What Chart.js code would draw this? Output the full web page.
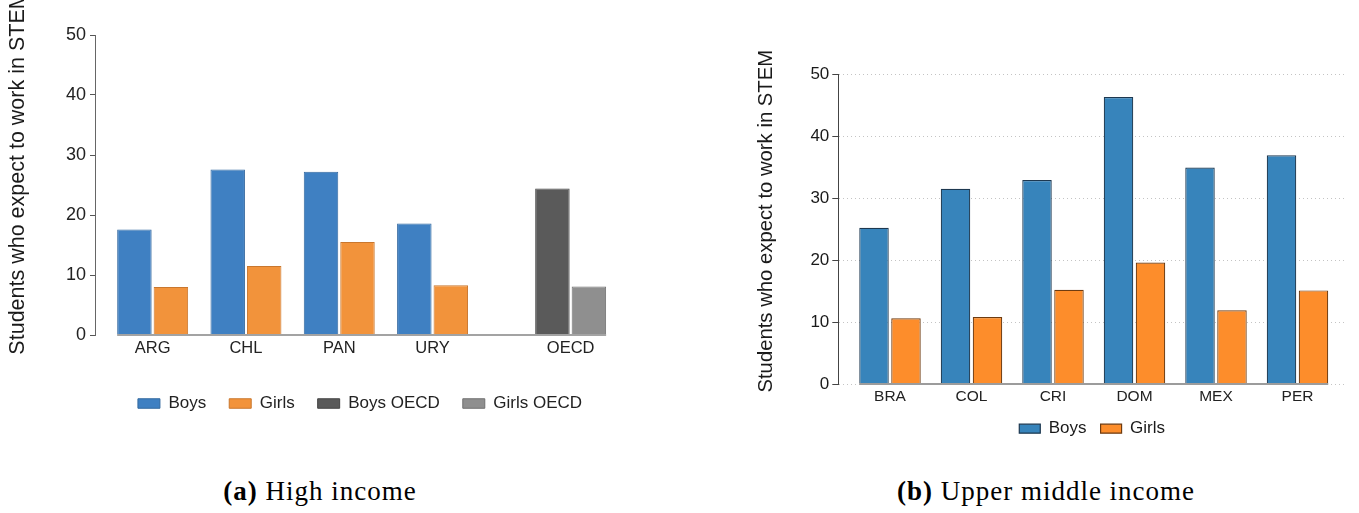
<!DOCTYPE html>
<html>
<head>
<meta charset="utf-8">
<title>Students who expect to work in STEM</title>
<script src="https://cdn.jsdelivr.net/npm/chart.js@4.4.1/dist/chart.umd.min.js"></script>
<style>
  html, body { margin: 0; padding: 0; background: #fff; }
  #page { position: relative; width: 1359px; height: 513px; overflow: hidden; }
  canvas { position: absolute; top: 0; }
  #highChart { left: 0; }
  #upperChart { left: 740px; }
  .caption {
    position: absolute; top: 478px; width: 400px; text-align: center;
    font-family: 'Liberation Serif', 'Times New Roman', serif;
    font-size: 27px; line-height: 27px; letter-spacing: 1px; color: #000; white-space: nowrap;
  }
</style>
</head>
<body>
<div id="page">
  <canvas id="highChart" width="720" height="440"></canvas>
  <canvas id="upperChart" width="619" height="460"></canvas>
  <div class="caption" style="left:120px"><b>(a)</b> High income</div>
  <div class="caption" style="left:846px"><b>(b)</b> Upper middle income</div>
</div>
<script>
// (a) high income countries, plus the OECD average as its own group
const highCountries = ['ARG', 'CHL', 'PAN', 'URY'];
const highBoys = [17.6, 27.6, 27.2, 18.6];
const highGirls = [8.0, 11.5, 15.5, 8.3];
const oecdLabels = ['OECD'];
const oecdBoys = [24.4];
const oecdGirls = [8.1];

// (b) upper middle income countries
const upperCountries = ['BRA', 'COL', 'CRI', 'DOM', 'MEX', 'PER'];
const upperBoys = [25.2, 31.5, 32.9, 46.3, 34.9, 36.9];
const upperGirls = [10.6, 10.8, 15.2, 19.6, 11.9, 15.1];

const yTicks = [0, 10, 20, 30, 40, 50];
const yTitle = 'Students who expect to work in STEM';

const FONT = "'Liberation Sans', Arial, Helvetica, sans-serif";
Chart.defaults.font.family = FONT;
Chart.defaults.color = '#222';

// Category axis like the Stata one: some room between the axis line and the
// first / last group, and optionally a wider gap before one group (OECD).
class PlotCategoryScale extends Chart.CategoryScale {
  buildTicks() {
    const ticks = super.buildTicks();
    this._valueRange += this.options.gapSize;
    return ticks;
  }
  configure() {
    super.configure();
    this._startPixel += this.options.insetStart;
    this._endPixel -= this.options.insetEnd;
    this._length = this._endPixel - this._startPixel;
  }
  getPixelForValue(value) {
    if (typeof value !== 'number') value = this.parse(value);
    if (value === null) return NaN;
    if (value >= this.options.gapBefore) value += this.options.gapSize;
    return this.getPixelForDecimal((value - this._startValue) / this._valueRange);
  }
}
PlotCategoryScale.id = 'plotCategory';
PlotCategoryScale.defaults = { insetStart: 0, insetEnd: 0, gapBefore: 1e9, gapSize: 0 };
Chart.register(PlotCategoryScale);

const fixedTicks = axis => { axis.ticks = yTicks.map(v => ({ value: v })); };

// solid base line running only under the bars
function baseLine(color, width) {
  return {
    id: 'baseLine',
    afterDatasetsDraw(chart) {
      const bars = chart.getSortedVisibleDatasetMetas()
        .flatMap(m => m.data.filter((b, i) => m._parsed[i].y !== null));
      const left = Math.min(...bars.map(b => b.x - b.width / 2));
      const right = Math.max(...bars.map(b => b.x + b.width / 2));
      const y = chart.scales.y.getPixelForValue(0);
      const ctx = chart.ctx;
      ctx.save();
      ctx.strokeStyle = color;
      ctx.lineWidth = width;
      ctx.beginPath();
      ctx.moveTo(left, y);
      ctx.lineTo(right, y);
      ctx.stroke();
      ctx.restore();
    }
  };
}

// y title sits a bit higher than the plot centre in the source, draw it by hand
function sideTitle(cx, cy, size) {
  return {
    id: 'sideTitle',
    afterDraw(chart) {
      const ctx = chart.ctx;
      ctx.save();
      ctx.translate(cx, cy);
      ctx.rotate(-Math.PI / 2);
      ctx.font = size + 'px ' + FONT;
      ctx.fillStyle = '#1a1a1a';
      ctx.textAlign = 'center';
      ctx.textBaseline = 'middle';
      ctx.fillText(yTitle, 0, 0);
      ctx.restore();
    }
  };
}

const xTicks = (size, pad) => ({ font: { size: size }, padding: pad, autoSkip: false, maxRotation: 0, color: '#222' });
const blanks = arr => arr.map(() => null);

// ---- panel (a)
new Chart(document.getElementById('highChart'), {
  type: 'bar',
  data: {
    labels: highCountries.concat(oecdLabels),
    datasets: [
      { label: 'Boys', data: highBoys.concat(blanks(oecdLabels)),
        backgroundColor: '#3f80c2', borderColor: '#33689f' },
      { label: 'Girls', data: highGirls.concat(blanks(oecdLabels)),
        backgroundColor: '#f2933b', borderColor: '#c9772e' },
      { label: 'Boys OECD', data: blanks(highCountries).concat(oecdBoys),
        backgroundColor: '#5a5a5a', borderColor: '#444444' },
      { label: 'Girls OECD', data: blanks(highCountries).concat(oecdGirls),
        backgroundColor: '#8f8f8f', borderColor: '#707070' }
    ]
  },
  options: {
    responsive: false,
    animation: false,
    datasets: { bar: { borderWidth: 1, skipNull: true, categoryPercentage: 0.782, barPercentage: 0.945 } },
    layout: { padding: { top: 35, left: 60, right: 60, bottom: 18 } },
    plugins: {
      legend: {
        position: 'bottom',
        labels: { boxWidth: 22, boxHeight: 9.5, padding: 23, font: { size: 17 }, color: '#222' }
      },
      tooltip: { enabled: false }
    },
    scales: {
      x: {
        type: 'plotCategory', offset: true,
        insetStart: 11, insetEnd: 42.7, gapBefore: highCountries.length, gapSize: 0.48,
        grid: { display: false, drawTicks: false }, border: { display: false },
        ticks: xTicks(16.5, 4),
        afterFit: a => { a.height = 37; }
      },
      y: {
        min: 0, max: 50,
        afterBuildTicks: fixedTicks,
        afterFit: a => { a.width = 35; },
        grid: { drawOnChartArea: false, tickLength: 5, tickColor: '#555', tickWidth: 1 },
        border: { color: '#666', width: 1 },
        ticks: { font: { size: 18 }, padding: 4, color: '#222' }
      }
    }
  },
  plugins: [baseLine('#a3a3a3', 2), sideTitle(18, 173, 21.5)]
});

// ---- panel (b)
new Chart(document.getElementById('upperChart'), {
  type: 'bar',
  data: {
    labels: upperCountries,
    datasets: [
      { label: 'Boys', data: upperBoys, backgroundColor: '#3784bb', borderColor: '#1d3850' },
      { label: 'Girls', data: upperGirls, backgroundColor: '#fd8d2b', borderColor: '#6e3b10' }
    ]
  },
  options: {
    responsive: false,
    animation: false,
    datasets: { bar: { borderWidth: 1.2, categoryPercentage: 0.785, barPercentage: 0.922 } },
    layout: { padding: { top: 74, left: 38.3, right: 13, bottom: 12.8 } },
    plugins: {
      legend: {
        position: 'bottom', fullSize: false,
        labels: { boxWidth: 21, boxHeight: 9, padding: 14, font: { size: 17 }, color: '#1a1a1a' }
      },
      tooltip: { enabled: false }
    },
    scales: {
      x: {
        type: 'plotCategory', offset: true, insetStart: 10.95, insetEnd: 7.75,
        grid: { display: false, drawTicks: false }, border: { display: false },
        ticks: xTicks(15.5, 3),
        afterFit: a => { a.height = 22.2; }
      },
      y: {
        min: 0, max: 50,
        afterBuildTicks: fixedTicks,
        afterFit: a => { a.width = 60; },
        grid: { color: '#c4c4c4', lineWidth: 1, tickLength: 6, tickColor: '#444', tickWidth: 1, tickBorderDash: [] },
        border: { color: '#444', width: 1, dash: [1, 3] },
        ticks: { font: { size: 17 }, padding: 3, color: '#1a1a1a' }
      }
    }
  },
  plugins: [baseLine('#9c9c9c', 2), sideTitle(26.5, 221.2, 20.3)]
});
</script>
</body>
</html>
